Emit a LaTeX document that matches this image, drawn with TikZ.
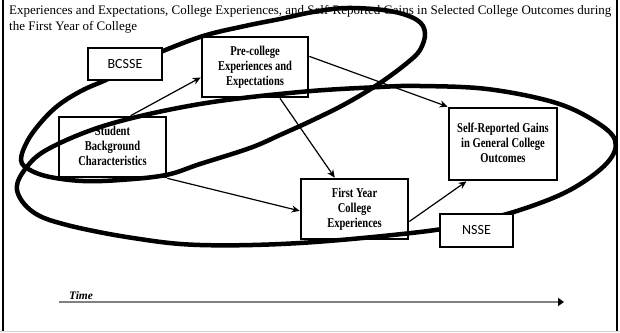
\documentclass[tikz,border=0pt]{standalone}
\usepackage{fontspec}
\setmainfont{Liberation Serif}
\newfontfamily\lblfont{Carlito}
\usetikzlibrary{arrows.meta,calc}
\newcommand\bt[1]{\scalebox{0.78}[1]{\fontsize{13.5}{15}\selectfont\bfseries\begin{tabular}{@{}c@{}}#1\end{tabular}}}
\begin{document}
\begin{tikzpicture}[x=1pt,y=-1pt,
  mainbox/.style={draw=black,line width=2.6pt,fill=white,inner sep=0pt},
  lblbox/.style={draw=black,line width=1.3pt,fill=white,inner sep=0pt,font=\lblfont\fontsize{14}{16}\selectfont},
  arr/.style={draw=black,line width=1.2pt,-{Stealth[length=8pt,width=7pt]}},
  ring/.style={draw=black,line width=4.5pt},
  titletext/.style={anchor=base west,inner sep=0pt,font=\fontsize{13}{15}\selectfont}]
\useasboundingbox (0,0) rectangle (620,332);
% frame
\draw[line width=2pt] (3,-2) -- (3,331);
\draw[line width=2pt] (617,-2) -- (617,331);
\draw[line width=1pt,gray!35] (0,331) -- (620,331);
% title
\node[titletext] (title1) at (9,14) {Experiences and Expectations, College Experiences, and Self-Reported Gains in Selected College Outcomes during};
\node[titletext] (title2) at (9,30) {the First Year of College};
% main boxes
\node[mainbox,minimum width=106,minimum height=60] (pre) at (255,67) {\bt{Pre-college\\Experiences and\\Expectations}};
\node[mainbox,minimum width=107,minimum height=60] (stu) at (112.5,147) {\raisebox{-2pt}{\bt{Student\\Background\\Characteristics}}};
\node[mainbox,minimum width=108,minimum height=72] (self) at (503,144) {\raisebox{4pt}{\bt{Self-Reported Gains\\in General College\\Outcomes}}};
\node[mainbox,minimum width=107,minimum height=60] (first) at (354.5,209) {\bt{First Year\\College\\Experiences}};
% connectors
\draw[arr] ($(stu.north west)!0.665!(stu.north east)$) -- ($(pre.north west)!0.667!(pre.south west)$);
\draw[arr] ($(pre.north east)!0.33!(pre.south east)$) -- (self.north west);
\draw[arr] ($(pre.south west)!0.73!(pre.south east)$) -- ($(first.north west)!0.32!(first.north east)$);
\draw[arr] (stu.south east) -- ($(first.north west)!0.53!(first.south west)$);
\draw[arr] ($(first.north east)!0.7!(first.south east)$) -- ($(self.south west)!0.17!(self.south east)$);
% ellipses
\draw[ring] plot[smooth cycle,tension=0.6] coordinates {(21,160) (28,140) (43,120) (60,104) (83,90) (110,78) (147,58) (200,37) (245,26) (280,19) (313,12) (347,8) (390,11) (417,20) (425,33) (420,50) (407,63) (380,83) (347,103) (313,120) (280,135) (250,148) (200,164) (166,175) (120,180) (83,181) (50,177) (30,170)};
\draw[ring] plot[smooth cycle,tension=0.6] coordinates {(17,190) (26,168) (50,148) (110,124) (200,104) (300,92) (380,87) (420,86) (487,89) (553,102) (593,120) (615,140) (607,163) (570,190) (520,210) (470,223) (420,232) (300,243) (200,245) (133,238) (67,225) (33,212)};
% label boxes
\node[lblbox,minimum width=74,minimum height=32] (bcsse) at (125,64) {BCSSE};
\node[lblbox,minimum width=73,minimum height=33] (nsse) at (476.5,230.5) {NSSE};
% time axis
\coordinate (t0) at (59,302);
\coordinate (t1) at (564,302);
\draw[line width=2pt,gray,-{Triangle[length=6pt,width=8pt,color=black]}] (t0) -- (t1);
\node[anchor=base west,inner sep=0pt,font=\fontsize{11.5}{13}\selectfont\itshape\bfseries] (time) at (69,299) {Time};
\end{tikzpicture}
\end{document}
